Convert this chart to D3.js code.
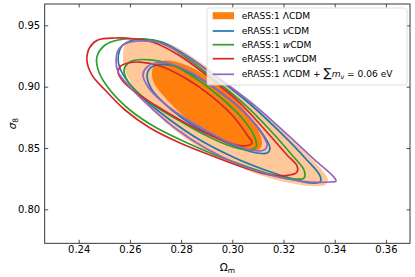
<!DOCTYPE html>
<html>
<head>
<meta charset="utf-8">
<script src="https://cdn.jsdelivr.net/npm/d3@7"></script>
<style>
  body { margin: 0; background: #fff; }
  text { font-family: "DejaVu Sans", sans-serif; fill: #000; }
</style>
</head>
<body>
<div id="chart"></div>
<script>
// tick values
var xTicks = [0.24, 0.26, 0.28, 0.30, 0.32, 0.34, 0.36];
var yTicks = [0.80, 0.85, 0.90, 0.95];
var xDomain = [0.22672, 0.36941];
var yDomain = [0.77234, 0.96742];

// contours, [Omega_m, sigma_8]
// LCDM (filled)
var lcdm2 = [[0.2573,0.9258],[0.2581,0.9340],[0.2608,0.9373],[0.2679,0.9381],[0.2757,0.9348],[0.2874,0.9201],[0.2991,0.9014],[0.3108,0.8810],[0.3225,0.8582],[0.3323,0.8386],[0.3374,0.8239],[0.3362,0.8198],[0.3304,0.8190],[0.3206,0.8223],[0.3108,0.8280],[0.2991,0.8378],[0.2874,0.8500],[0.2765,0.8663],[0.2671,0.8843],[0.2608,0.9014],[0.2577,0.9152]];
var lcdm1 = [[0.2686,0.9120],[0.2698,0.9177],[0.2729,0.9210],[0.2784,0.9201],[0.2866,0.9128],[0.2960,0.8989],[0.3042,0.8826],[0.3097,0.8663],[0.3116,0.8533],[0.3100,0.8484],[0.3050,0.8484],[0.2972,0.8541],[0.2874,0.8663],[0.2788,0.8802],[0.2725,0.8940],[0.2694,0.9030]];
// nuCDM
var nu2 = [[0.2554,0.9234],[0.2569,0.9332],[0.2600,0.9373],[0.2659,0.9389],[0.2725,0.9364],[0.2835,0.9234],[0.2952,0.9055],[0.3069,0.8859],[0.3186,0.8631],[0.3284,0.8419],[0.3343,0.8272],[0.3343,0.8223],[0.3304,0.8215],[0.3225,0.8255],[0.3128,0.8321],[0.3011,0.8419],[0.2874,0.8565],[0.2757,0.8729],[0.2659,0.8892],[0.2593,0.9038],[0.2561,0.9152]];
var nu1 = [[0.2667,0.9095],[0.2679,0.9152],[0.2706,0.9177],[0.2757,0.9177],[0.2843,0.9103],[0.2941,0.8973],[0.3038,0.8810],[0.3108,0.8647],[0.3147,0.8500],[0.3136,0.8459],[0.3077,0.8468],[0.2991,0.8533],[0.2894,0.8631],[0.2804,0.8745],[0.2725,0.8883],[0.2682,0.8989]];
// wCDM
var w2 = [[0.2471,0.9242],[0.2503,0.9340],[0.2554,0.9381],[0.2639,0.9389],[0.2718,0.9364],[0.2816,0.9242],[0.2933,0.9055],[0.3050,0.8851],[0.3147,0.8647],[0.3233,0.8443],[0.3280,0.8321],[0.3280,0.8255],[0.3245,0.8247],[0.3147,0.8288],[0.3050,0.8354],[0.2933,0.8443],[0.2816,0.8549],[0.2698,0.8671],[0.2600,0.8810],[0.2522,0.8973],[0.2479,0.9120]];
var w1 = [[0.2577,0.9136],[0.2593,0.9193],[0.2624,0.9218],[0.2679,0.9218],[0.2757,0.9185],[0.2855,0.9071],[0.2952,0.8916],[0.3038,0.8745],[0.3089,0.8582],[0.3093,0.8508],[0.3061,0.8484],[0.2991,0.8517],[0.2894,0.8606],[0.2796,0.8720],[0.2698,0.8843],[0.2628,0.8957],[0.2589,0.9055]];
// nuwCDM
var nuw2 = [[0.2432,0.9218],[0.2444,0.9324],[0.2475,0.9381],[0.2542,0.9397],[0.2620,0.9389],[0.2698,0.9356],[0.2796,0.9250],[0.2913,0.9071],[0.3030,0.8867],[0.3128,0.8647],[0.3214,0.8443],[0.3253,0.8354],[0.3253,0.8305],[0.3225,0.8280],[0.3147,0.8280],[0.3050,0.8337],[0.2933,0.8427],[0.2796,0.8541],[0.2679,0.8663],[0.2581,0.8810],[0.2503,0.8973],[0.2452,0.9095]];
var nuw1 = [[0.2554,0.9120],[0.2565,0.9169],[0.2593,0.9193],[0.2639,0.9201],[0.2718,0.9169],[0.2816,0.9071],[0.2913,0.8932],[0.2999,0.8769],[0.3058,0.8606],[0.3077,0.8541],[0.3050,0.8517],[0.2991,0.8541],[0.2894,0.8623],[0.2796,0.8729],[0.2698,0.8851],[0.2620,0.8957],[0.2569,0.9055]];
// LCDM + sum m_nu
var mnu2 = [[0.2546,0.9218],[0.2557,0.9307],[0.2589,0.9356],[0.2639,0.9373],[0.2718,0.9356],[0.2843,0.9218],[0.2972,0.9030],[0.3100,0.8826],[0.3225,0.8590],[0.3323,0.8402],[0.3397,0.8263],[0.3405,0.8231],[0.3382,0.8223],[0.3264,0.8231],[0.3147,0.8280],[0.3030,0.8362],[0.2894,0.8500],[0.2776,0.8663],[0.2679,0.8835],[0.2600,0.8998],[0.2554,0.9120]];
var mnu1 = [[0.2651,0.9095],[0.2667,0.9161],[0.2698,0.9193],[0.2749,0.9193],[0.2835,0.9120],[0.2933,0.8989],[0.3030,0.8826],[0.3100,0.8663],[0.3136,0.8525],[0.3124,0.8484],[0.3069,0.8484],[0.2983,0.8549],[0.2894,0.8647],[0.2796,0.8769],[0.2718,0.8892],[0.2671,0.8998]];

var svgWidth = 415;
var svgHeight = 277;
var margin = { top: 4, right: 5, bottom: 33.7, left: 44.7 };
var width = svgWidth - margin.left - margin.right;
var height = svgHeight - margin.top - margin.bottom;

var svg = d3.select('#chart')
  .append('svg')
  .attr('width', svgWidth)
  .attr('height', svgHeight);

var chartGroup = svg.append('g')
  .attr('transform', `translate(${margin.left}, ${margin.top})`);

var x = d3.scaleLinear().domain(xDomain).range([0, width]);
var y = d3.scaleLinear().domain(yDomain).range([height, 0]);

chartGroup.append('clipPath').attr('id', 'clip')
  .append('rect').attr('width', width).attr('height', height);

var plot = chartGroup.append('g').attr('clip-path', 'url(#clip)');

var line = d3.line()
  .x(d => x(d[0]))
  .y(d => y(d[1]))
  .curve(d3.curveCatmullRomClosed.alpha(0.5));

// filled LCDM
plot.append('path').attr('d', line(lcdm2)).attr('fill', '#ffc89b');
plot.append('path').attr('d', line(lcdm1)).attr('fill', '#ff7f0e');

var lineSets = [
  { data: [nu2, nu1], color: '#1f77b4' },
  { data: [w2, w1], color: '#2ca02c' },
  { data: [nuw2, nuw1], color: '#d62728' },
  { data: [mnu2, mnu1], color: '#9467bd' }
];
lineSets.forEach(function (s) {
  s.data.forEach(function (c) {
    plot.append('path')
      .attr('d', line(c))
      .attr('fill', 'none')
      .attr('stroke', s.color)
      .attr('stroke-width', 1.7);
  });
});

// axes, ticks pointing inward
var fmt = d3.format('.2f');
var xAxis = chartGroup.append('g')
  .attr('transform', `translate(0, ${height})`)
  .call(d3.axisBottom(x).tickValues(xTicks).tickFormat(fmt).tickSize(-3.5).tickPadding(3));
var xTop = chartGroup.append('g')
  .call(d3.axisTop(x).tickValues(xTicks).tickFormat('').tickSize(-3.5));
var yAxis = chartGroup.append('g')
  .call(d3.axisLeft(y).tickValues(yTicks).tickFormat(fmt).tickSize(-3.5).tickPadding(4.5));
var yRight = chartGroup.append('g')
  .attr('transform', `translate(${width}, 0)`)
  .call(d3.axisRight(y).tickValues(yTicks).tickFormat('').tickSize(-3.5));

[xAxis, xTop, yAxis, yRight].forEach(function (a) {
  a.select('.domain').remove();
  a.selectAll('line').attr('stroke', '#222').attr('stroke-width', 0.8);
  a.selectAll('text').attr('font-size', 10).attr('font-family', 'DejaVu Sans').attr('fill', '#000');
});

chartGroup.append('rect')
  .attr('width', width).attr('height', height)
  .attr('fill', 'none').attr('stroke', '#222').attr('stroke-width', 0.9);

// axis labels
var xl = chartGroup.append('text')
  .attr('x', width / 2).attr('y', height + 28)
  .attr('text-anchor', 'middle').attr('font-size', 10.5);
xl.append('tspan').text('Ω');
xl.append('tspan').attr('font-size', 7.5).attr('dy', 2).text('m');

var yl = chartGroup.append('text')
  .attr('transform', `translate(${-29}, ${height / 2}) rotate(-90)`)
  .attr('text-anchor', 'middle').attr('font-size', 10.5);
yl.append('tspan').attr('font-style', 'italic').text('σ');
yl.append('tspan').attr('font-size', 7.5).attr('dy', 2).text('8');

// legend
var legend = svg.append('g').attr('transform', 'translate(207, 8)');
legend.append('rect')
  .attr('width', 200).attr('height', 77).attr('rx', 2.5)
  .attr('fill', '#fff').attr('fill-opacity', 0.8)
  .attr('stroke', '#d5d5d5').attr('stroke-width', 0.8);

var rowY = [7.7, 23, 36.7, 50.7, 66.3];
legend.append('rect')
  .attr('x', 5.7).attr('y', rowY[0] - 3.5).attr('width', 21.3).attr('height', 7)
  .attr('fill', '#ff7f0e');
lineSets.forEach(function (s, i) {
  legend.append('line')
    .attr('x1', 5.7).attr('x2', 27).attr('y1', rowY[i + 1]).attr('y2', rowY[i + 1])
    .attr('stroke', s.color).attr('stroke-width', 1.7);
});

function addLabel(i, parts) {
  var t = legend.append('text')
    .attr('x', 34.7).attr('y', rowY[i]).attr('dy', '0.35em')
    .attr('font-size', 9.1);
  parts.forEach(function (p) {
    var ts = t.append('tspan').text(p.t);
    if (p.i) ts.attr('font-style', 'italic');
    if (p.s) ts.attr('font-size', p.s);
    if (p.dy) ts.attr('dy', p.dy);
  });
}
addLabel(0, [{ t: 'eRASS:1 ΛCDM' }]);
addLabel(1, [{ t: 'eRASS:1 ' }, { t: 'ν', i: true }, { t: 'CDM' }]);
addLabel(2, [{ t: 'eRASS:1 ' }, { t: 'w', i: true }, { t: 'CDM' }]);
addLabel(3, [{ t: 'eRASS:1 ' }, { t: 'νw', i: true }, { t: 'CDM' }]);
addLabel(4, [{ t: 'eRASS:1 ΛCDM + ' }, { t: '∑', s: 12 }, { t: 'm', i: true }, { t: 'ν', i: true, s: 6.5, dy: 2 }, { t: ' = 0.06 eV', dy: -2 }]);
</script>
</body>
</html>
